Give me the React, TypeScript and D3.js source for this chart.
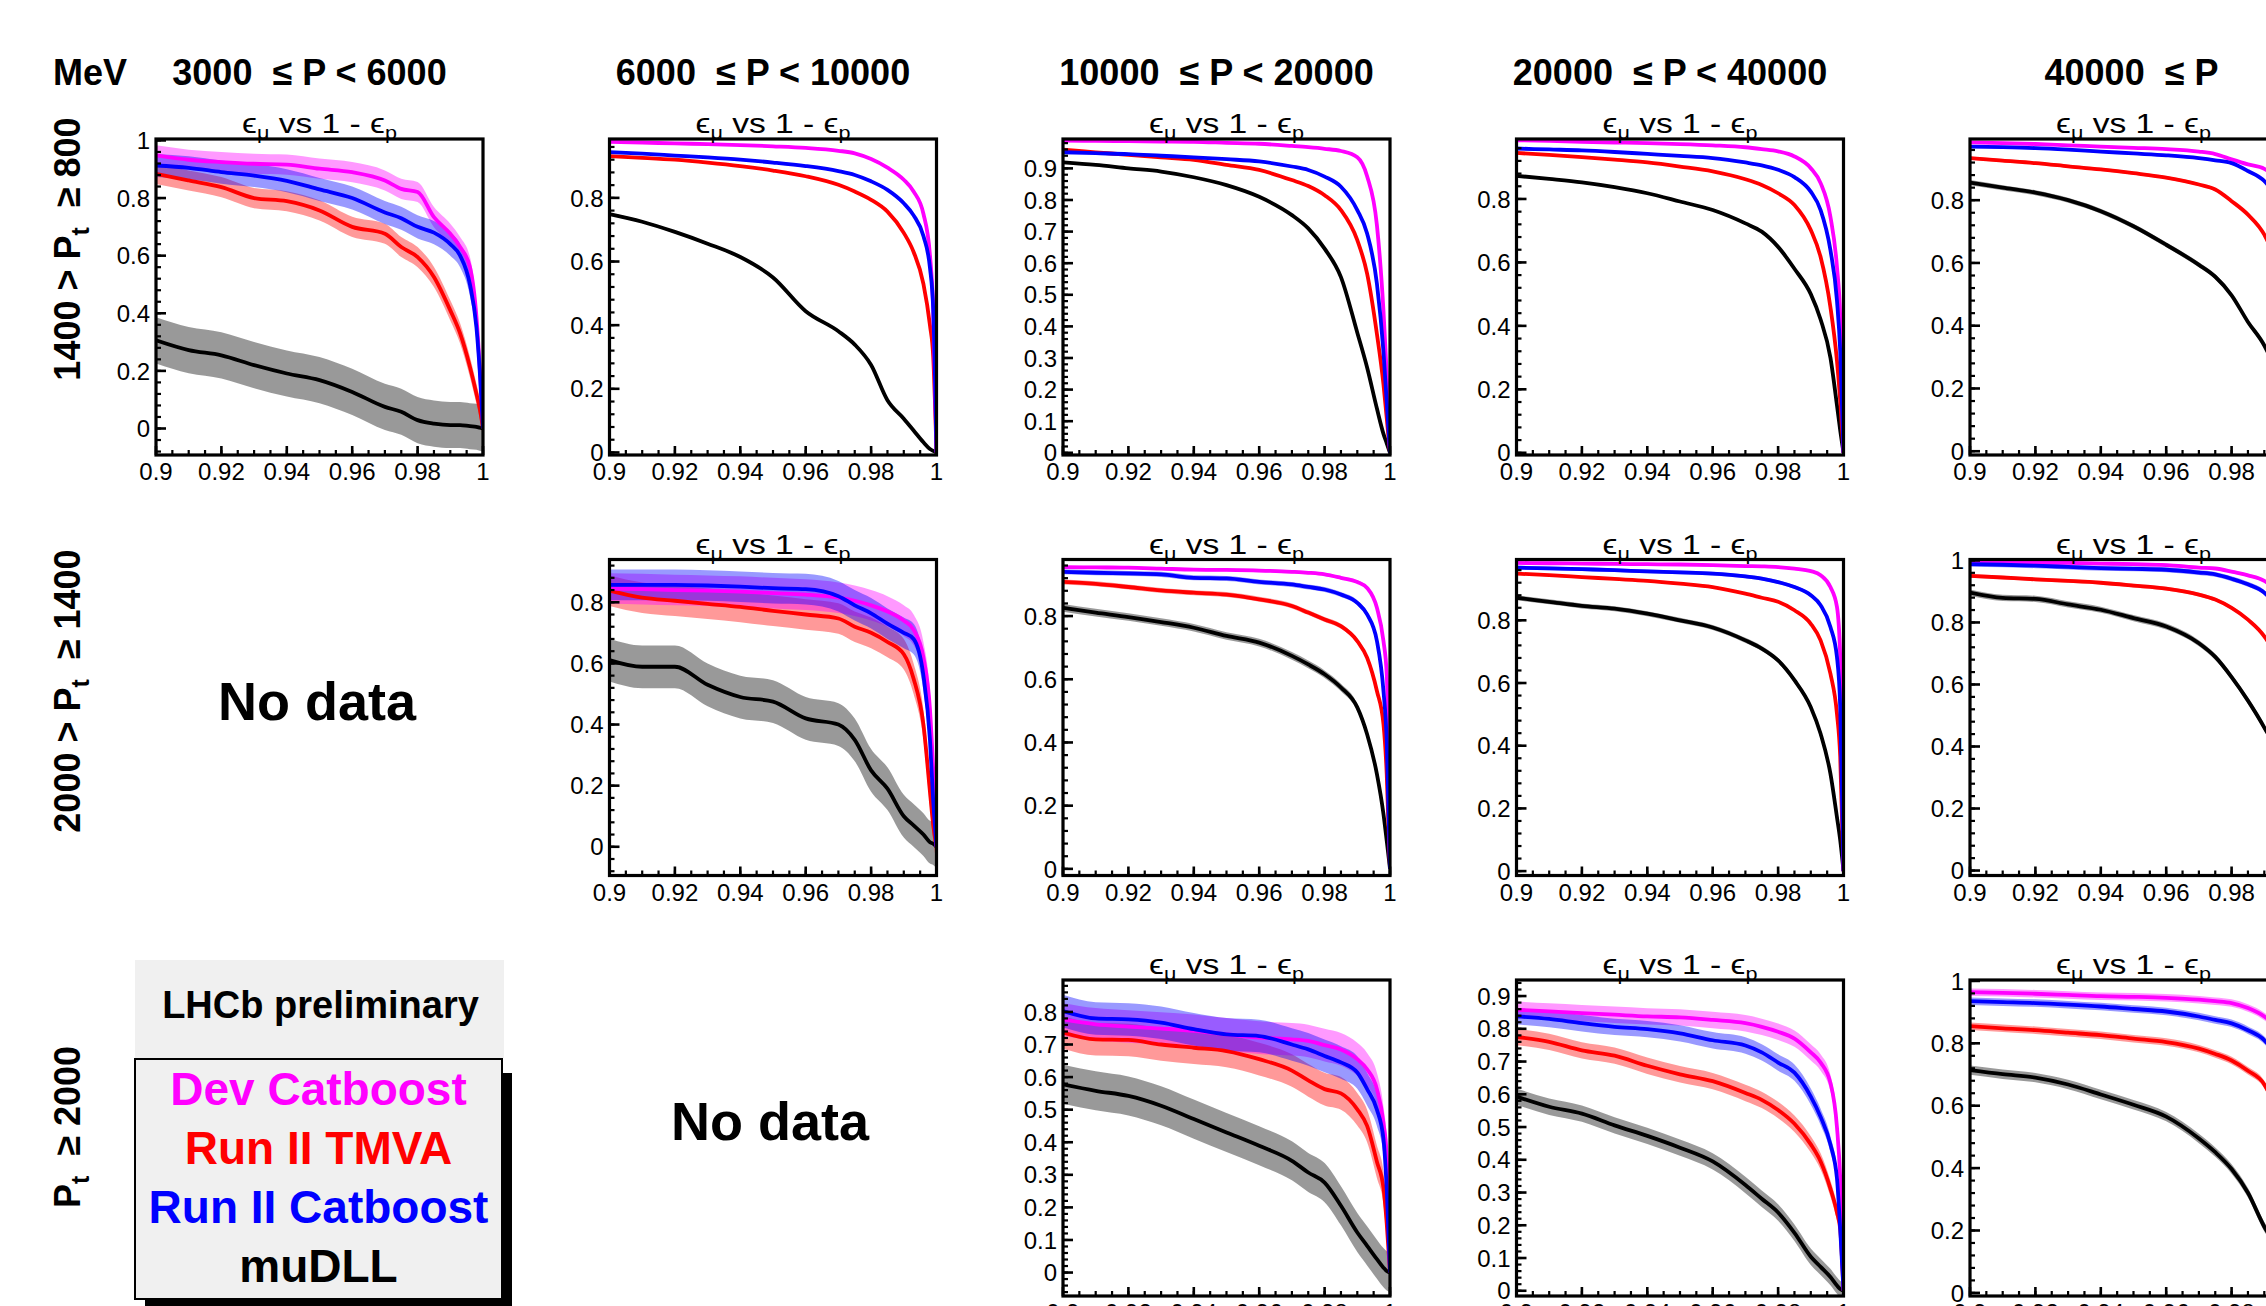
import React from "react";
import * as d3 from "d3";

// 1 - eps_p grid shared by all curves
const EFF_P = [0.9, 0.91, 0.92, 0.93, 0.94, 0.95, 0.96, 0.97, 0.975, 0.98, 0.985, 0.99, 0.993, 0.996, 0.998, 0.999, 1.0];
const X_TICKS = [0.9, 0.92, 0.94, 0.96, 0.98, 1.0];

const P_BINS = ["3000  ≤ P < 6000", "6000  ≤ P < 10000", "10000  ≤ P < 20000", "20000  ≤ P < 40000", "40000  ≤ P"];
const PT_BINS = [
    ["1400 > P", "t", "  ≥ 800"],
    ["2000 > P", "t", "  ≥ 1400"],
    ["P", "t", "  ≥ 2000"],
];
const SERIES_NAMES = ["Dev Catboost", "Run II TMVA", "Run II Catboost", "muDLL"];
const SERIES_COLORS = ["#ff00ff", "#ff0000", "#0000ff", "#000000"];

// eps_mu values, order: Dev Catboost, Run II TMVA, Run II Catboost, muDLL
const DEV_R1C1 = [0.948, 0.933, 0.925, 0.919, 0.916, 0.902, 0.89, 0.861, 0.832, 0.821, 0.734, 0.676, 0.63, 0.561, 0.387, 0.214, 0.02];
const TMVA_R1C1 = [0.884, 0.861, 0.838, 0.8, 0.789, 0.757, 0.7, 0.676, 0.63, 0.595, 0.526, 0.41, 0.33, 0.214, 0.12, 0.07, 0];
const CAT_R1C1 = [0.913, 0.905, 0.89, 0.878, 0.86, 0.83, 0.8, 0.75, 0.73, 0.7, 0.68, 0.64, 0.6, 0.5, 0.35, 0.2, 0];
const DLL_R1C1 = [0.306, 0.272, 0.254, 0.22, 0.191, 0.168, 0.127, 0.075, 0.058, 0.029, 0.017, 0.012, 0.012, 0.008, 0.006, 0.003, 0];
const BAND_R1C1 = [0.035, 0.035, 0.04, 0.08];

const DEV_R1C2 = [0.976, 0.974, 0.971, 0.969, 0.966, 0.962, 0.957, 0.948, 0.94, 0.922, 0.895, 0.857, 0.82, 0.75, 0.62, 0.45, 0];
const TMVA_R1C2 = [0.931, 0.926, 0.92, 0.911, 0.9, 0.886, 0.868, 0.841, 0.82, 0.794, 0.757, 0.69, 0.63, 0.53, 0.4, 0.3, 0];
const CAT_R1C2 = [0.944, 0.939, 0.933, 0.927, 0.92, 0.911, 0.9, 0.884, 0.872, 0.852, 0.825, 0.783, 0.745, 0.68, 0.58, 0.45, 0];
const DLL_R1C2 = [0.749, 0.725, 0.693, 0.656, 0.614, 0.55, 0.444, 0.381, 0.339, 0.275, 0.164, 0.106, 0.069, 0.032, 0.011, 0.005, 0];
const BAND_R1C2 = [0.003, 0.003, 0.003, 0.004];

const DEV_R1C3 = [0.988, 0.987, 0.986, 0.985, 0.984, 0.981, 0.978, 0.971, 0.967, 0.962, 0.955, 0.935, 0.875, 0.72, 0.45, 0.25, 0];
const TMVA_R1C3 = [0.959, 0.951, 0.943, 0.935, 0.927, 0.911, 0.895, 0.863, 0.844, 0.815, 0.768, 0.673, 0.567, 0.376, 0.217, 0.11, 0];
const CAT_R1C3 = [0.951, 0.948, 0.945, 0.94, 0.935, 0.929, 0.922, 0.906, 0.895, 0.874, 0.842, 0.768, 0.694, 0.535, 0.32, 0.16, 0];
const DLL_R1C3 = [0.919, 0.911, 0.9, 0.89, 0.872, 0.847, 0.81, 0.752, 0.71, 0.646, 0.556, 0.38, 0.27, 0.14, 0.06, 0.03, 0];
const BAND_R1C3 = [0.002, 0.002, 0.002, 0.002];

const DEV_R1C4 = [0.985, 0.983, 0.98, 0.978, 0.976, 0.973, 0.969, 0.963, 0.957, 0.95, 0.934, 0.897, 0.85, 0.744, 0.586, 0.43, 0];
const TMVA_R1C4 = [0.945, 0.939, 0.932, 0.924, 0.915, 0.902, 0.887, 0.862, 0.844, 0.818, 0.781, 0.702, 0.617, 0.459, 0.29, 0.164, 0];
const CAT_R1C4 = [0.959, 0.956, 0.953, 0.948, 0.942, 0.936, 0.929, 0.915, 0.906, 0.892, 0.869, 0.823, 0.765, 0.639, 0.48, 0.32, 0];
const DLL_R1C4 = [0.873, 0.863, 0.852, 0.837, 0.818, 0.792, 0.765, 0.723, 0.697, 0.649, 0.58, 0.5, 0.42, 0.3, 0.15, 0.07, 0];
const BAND_R1C4 = [0.002, 0.002, 0.002, 0.003];

const DEV_R1C5 = [0.984, 0.982, 0.979, 0.975, 0.971, 0.967, 0.963, 0.955, 0.947, 0.93, 0.914, 0.9, 0.87, 0.8, 0.65, 0.5, 0];
const TMVA_R1C5 = [0.934, 0.926, 0.918, 0.908, 0.898, 0.886, 0.872, 0.85, 0.834, 0.797, 0.754, 0.69, 0.62, 0.5, 0.35, 0.22, 0];
const CAT_R1C5 = [0.971, 0.969, 0.966, 0.961, 0.955, 0.949, 0.943, 0.934, 0.927, 0.918, 0.893, 0.861, 0.82, 0.74, 0.6, 0.45, 0];
const DLL_R1C5 = [0.856, 0.84, 0.824, 0.8, 0.765, 0.717, 0.658, 0.594, 0.556, 0.497, 0.412, 0.337, 0.27, 0.17, 0.09, 0.045, 0];
const BAND_R1C5 = [0.004, 0.005, 0.004, 0.008];

const DEV_R2C2 = [0.845, 0.843, 0.84, 0.838, 0.835, 0.83, 0.825, 0.815, 0.805, 0.79, 0.77, 0.74, 0.71, 0.62, 0.45, 0.25, 0];
const TMVA_R2C2 = [0.838, 0.815, 0.805, 0.795, 0.785, 0.772, 0.76, 0.747, 0.72, 0.7, 0.67, 0.63, 0.55, 0.4, 0.18, 0.07, 0];
const CAT_R2C2 = [0.857, 0.857, 0.857, 0.855, 0.851, 0.846, 0.843, 0.82, 0.79, 0.764, 0.73, 0.7, 0.68, 0.56, 0.35, 0.15, 0];
const DLL_R2C2 = [0.611, 0.589, 0.589, 0.53, 0.49, 0.475, 0.42, 0.4, 0.35, 0.25, 0.19, 0.1, 0.07, 0.04, 0.015, 0.01, 0];
const BAND_R2C2 = [0.05, 0.05, 0.05, 0.07];

const DEV_R2C3 = [0.955, 0.954, 0.953, 0.95, 0.947, 0.946, 0.944, 0.94, 0.937, 0.932, 0.921, 0.908, 0.889, 0.826, 0.721, 0.616, 0];
const TMVA_R2C3 = [0.908, 0.902, 0.892, 0.881, 0.874, 0.868, 0.853, 0.832, 0.811, 0.789, 0.768, 0.721, 0.668, 0.563, 0.458, 0.3, 0];
const CAT_R2C3 = [0.94, 0.937, 0.935, 0.932, 0.921, 0.919, 0.908, 0.9, 0.892, 0.884, 0.868, 0.842, 0.805, 0.721, 0.563, 0.405, 0];
const DLL_R2C3 = [0.826, 0.811, 0.797, 0.781, 0.763, 0.737, 0.716, 0.674, 0.647, 0.616, 0.574, 0.511, 0.426, 0.3, 0.174, 0.089, 0];
const BAND_R2C3 = [0.005, 0.008, 0.008, 0.012];

const DEV_R2C4 = [0.983, 0.982, 0.981, 0.98, 0.979, 0.978, 0.976, 0.973, 0.972, 0.97, 0.965, 0.957, 0.944, 0.906, 0.843, 0.683, 0];
const TMVA_R2C4 = [0.949, 0.944, 0.938, 0.932, 0.926, 0.917, 0.906, 0.885, 0.872, 0.859, 0.832, 0.789, 0.736, 0.63, 0.502, 0.364, 0];
const CAT_R2C4 = [0.968, 0.966, 0.963, 0.96, 0.956, 0.953, 0.949, 0.94, 0.933, 0.922, 0.906, 0.88, 0.848, 0.779, 0.683, 0.523, 0];
const DLL_R2C4 = [0.872, 0.859, 0.846, 0.837, 0.821, 0.8, 0.777, 0.736, 0.71, 0.672, 0.609, 0.523, 0.438, 0.311, 0.172, 0.098, 0];
const BAND_R2C4 = [0.004, 0.004, 0.006, 0.008];

const DEV_R2C5 = [0.997, 0.995, 0.993, 0.992, 0.99, 0.988, 0.985, 0.977, 0.974, 0.964, 0.952, 0.934, 0.91, 0.86, 0.75, 0.6, 0];
const TMVA_R2C5 = [0.95, 0.945, 0.939, 0.934, 0.928, 0.919, 0.909, 0.89, 0.874, 0.847, 0.809, 0.755, 0.7, 0.6, 0.45, 0.3, 0];
const CAT_R2C5 = [0.988, 0.986, 0.983, 0.979, 0.975, 0.973, 0.97, 0.961, 0.955, 0.941, 0.923, 0.896, 0.86, 0.79, 0.65, 0.5, 0];
const DLL_R2C5 = [0.896, 0.879, 0.876, 0.858, 0.841, 0.814, 0.787, 0.733, 0.689, 0.624, 0.548, 0.461, 0.4, 0.28, 0.15, 0.08, 0];
const BAND_R2C5 = [0.005, 0.006, 0.008, 0.01];

const DEV_R3C3 = [0.777, 0.762, 0.755, 0.749, 0.742, 0.731, 0.721, 0.716, 0.711, 0.698, 0.685, 0.655, 0.624, 0.563, 0.46, 0.358, 0];
const TMVA_R3C3 = [0.737, 0.716, 0.714, 0.7, 0.69, 0.68, 0.655, 0.62, 0.59, 0.563, 0.55, 0.501, 0.45, 0.34, 0.26, 0.15, 0];
const CAT_R3C3 = [0.803, 0.78, 0.777, 0.767, 0.747, 0.731, 0.726, 0.7, 0.685, 0.665, 0.645, 0.614, 0.563, 0.5, 0.41, 0.256, 0];
const DLL_R3C3 = [0.578, 0.558, 0.542, 0.512, 0.471, 0.43, 0.389, 0.343, 0.307, 0.276, 0.205, 0.123, 0.082, 0.041, 0.015, 0.005, 0];
const BAND_R3C3 = [0.05, 0.05, 0.05, 0.06];

const DEV_R3C4 = [0.858, 0.853, 0.848, 0.843, 0.838, 0.835, 0.827, 0.817, 0.806, 0.791, 0.77, 0.728, 0.697, 0.635, 0.5, 0.343, 0];
const TMVA_R3C4 = [0.775, 0.76, 0.734, 0.718, 0.687, 0.661, 0.64, 0.604, 0.583, 0.552, 0.51, 0.447, 0.395, 0.312, 0.239, 0.187, 0];
const CAT_R3C4 = [0.838, 0.83, 0.817, 0.806, 0.799, 0.786, 0.765, 0.749, 0.728, 0.697, 0.666, 0.593, 0.531, 0.447, 0.343, 0.187, 0];
const DLL_R3C4 = [0.593, 0.562, 0.541, 0.505, 0.473, 0.437, 0.395, 0.323, 0.281, 0.239, 0.177, 0.104, 0.073, 0.042, 0.016, 0.005, 0];
const BAND_R3C4 = [0.025, 0.025, 0.025, 0.025];

const DEV_R3C5 = [0.964, 0.962, 0.959, 0.955, 0.951, 0.949, 0.946, 0.94, 0.935, 0.929, 0.913, 0.886, 0.86, 0.8, 0.65, 0.5, 0];
const TMVA_R3C5 = [0.855, 0.848, 0.842, 0.834, 0.826, 0.815, 0.804, 0.783, 0.766, 0.745, 0.712, 0.668, 0.6, 0.5, 0.35, 0.22, 0];
const CAT_R3C5 = [0.935, 0.932, 0.929, 0.924, 0.918, 0.91, 0.902, 0.886, 0.875, 0.864, 0.842, 0.81, 0.77, 0.7, 0.55, 0.4, 0];
const DLL_R3C5 = [0.714, 0.701, 0.69, 0.668, 0.636, 0.603, 0.565, 0.495, 0.451, 0.397, 0.321, 0.212, 0.16, 0.09, 0.045, 0.02, 0];
const BAND_R3C5 = [0.012, 0.012, 0.012, 0.015];

type PanelCfg = {
    row: number;
    col: number;
    yMin: number;
    yMax: number;
    yStep: number;
    curves: number[][];
    bands: number[];
};

const PANELS: PanelCfg[] = [
    { row: 0, col: 0, yMin: -0.092, yMax: 1.005, yStep: 0.2, curves: [DEV_R1C1, TMVA_R1C1, CAT_R1C1, DLL_R1C1], bands: BAND_R1C1 },
    { row: 0, col: 1, yMin: -0.008, yMax: 0.985, yStep: 0.2, curves: [DEV_R1C2, TMVA_R1C2, CAT_R1C2, DLL_R1C2], bands: BAND_R1C2 },
    { row: 0, col: 2, yMin: -0.007, yMax: 0.993, yStep: 0.1, curves: [DEV_R1C3, TMVA_R1C3, CAT_R1C3, DLL_R1C3], bands: BAND_R1C3 },
    { row: 0, col: 3, yMin: -0.007, yMax: 0.989, yStep: 0.2, curves: [DEV_R1C4, TMVA_R1C4, CAT_R1C4, DLL_R1C4], bands: BAND_R1C4 },
    { row: 0, col: 4, yMin: -0.012, yMax: 0.995, yStep: 0.2, curves: [DEV_R1C5, TMVA_R1C5, CAT_R1C5, DLL_R1C5], bands: BAND_R1C5 },
    { row: 1, col: 1, yMin: -0.094, yMax: 0.94, yStep: 0.2, curves: [DEV_R2C2, TMVA_R2C2, CAT_R2C2, DLL_R2C2], bands: BAND_R2C2 },
    { row: 1, col: 2, yMin: -0.021, yMax: 0.979, yStep: 0.2, curves: [DEV_R2C3, TMVA_R2C3, CAT_R2C3, DLL_R2C3], bands: BAND_R2C3 },
    { row: 1, col: 3, yMin: -0.014, yMax: 0.994, yStep: 0.2, curves: [DEV_R2C4, TMVA_R2C4, CAT_R2C4, DLL_R2C4], bands: BAND_R2C4 },
    { row: 1, col: 4, yMin: -0.016, yMax: 1.003, yStep: 0.2, curves: [DEV_R2C5, TMVA_R2C5, CAT_R2C5, DLL_R2C5], bands: BAND_R2C5 },
    { row: 2, col: 2, yMin: -0.072, yMax: 0.898, yStep: 0.1, curves: [DEV_R3C3, TMVA_R3C3, CAT_R3C3, DLL_R3C3], bands: BAND_R3C3 },
    { row: 2, col: 3, yMin: -0.016, yMax: 0.949, yStep: 0.1, curves: [DEV_R3C4, TMVA_R3C4, CAT_R3C4, DLL_R3C4], bands: BAND_R3C4 },
    { row: 2, col: 4, yMin: -0.01, yMax: 1.003, yStep: 0.2, curves: [DEV_R3C5, TMVA_R3C5, CAT_R3C5, DLL_R3C5], bands: BAND_R3C5 },
];

// layout
const W = 327;
const H = 316;
const COL_X0 = 156;
const COL_DX = 453.5;
const ROW_Y0 = 139;
const ROW_DY = 420.5;
const HEADER_DX = [-10, -10, -10, -10, -2];
const ROW_LABEL_Y = [249, 691, 1127];
const FONT = "'Liberation Sans', Arial, Helvetica, sans-serif";

// bands first, then lines (blue ends up on top)
const BAND_ORDER = [3, 1, 0, 2];
const LINE_ORDER = [3, 1, 0, 2];

const fmt = d3.format("~g");

const Panel = ({ cfg }: { cfg: PanelCfg }) => {
    const x = d3.scaleLinear().domain([0.9, 1.0]).range([0, W]);
    const y = d3.scaleLinear().domain([cfg.yMin, cfg.yMax]).range([H, 0]);
    const px = (i: number) => x(EFF_P[i]);

    const line = d3.line<number>()
        .x((_, i) => px(i))
        .y(d => y(d))
        .curve(d3.curveMonotoneX);

    const band = (hw: number) => d3.area<number>()
        .x((_, i) => px(i))
        .y0(d => y(d - hw))
        .y1(d => y(d + hw))
        .curve(d3.curveMonotoneX);

    const majorY = d3.range(0, cfg.yMax + 0.001, cfg.yStep);
    const minorStep = cfg.yStep / 5;
    const minorY = d3.range(Math.ceil(cfg.yMin / minorStep - 1e-6), Math.floor(cfg.yMax / minorStep + 1e-6) + 1)
        .map(k => k * minorStep);
    const minorX = d3.range(0, 21).map(k => 0.9 + k * 0.005);

    const tx = COL_X0 + cfg.col * COL_DX;
    const ty = ROW_Y0 + cfg.row * ROW_DY;
    const clipId = `clip-${cfg.row}-${cfg.col}`;

    return (
        <g transform={`translate(${tx},${ty})`}>
            <clipPath id={clipId}>
                <rect x={0} y={0} width={W} height={H} />
            </clipPath>
            <g clipPath={`url(#${clipId})`}>
                {BAND_ORDER.map(s => (
                    <path key={"b" + s} d={band(cfg.bands[s])(cfg.curves[s]) || ""}
                        fill={SERIES_COLORS[s]} fillOpacity={0.4} stroke="none" />
                ))}
                {LINE_ORDER.map(s => (
                    <path key={"l" + s} d={line(cfg.curves[s]) || ""}
                        fill="none" stroke={SERIES_COLORS[s]} strokeWidth={3.8} strokeLinejoin="round" />
                ))}
            </g>
            {/* minor ticks */}
            {minorY.map((v, i) => (
                <line key={"my" + i} x1={0} x2={5} y1={y(v)} y2={y(v)} stroke="#000" strokeWidth={2.2} />
            ))}
            {minorX.map((v, i) => (
                <line key={"mx" + i} x1={x(v)} x2={x(v)} y1={H} y2={H - 5} stroke="#000" strokeWidth={2.2} />
            ))}
            {majorY.map((v, i) => (
                <line key={"Y" + i} x1={0} x2={10} y1={y(v)} y2={y(v)} stroke="#000" strokeWidth={2.6} />
            ))}
            {X_TICKS.map((v, i) => (
                <line key={"X" + i} x1={x(v)} x2={x(v)} y1={H} y2={H - 9} stroke="#000" strokeWidth={2.6} />
            ))}
            <rect x={0} y={0} width={W} height={H} fill="none" stroke="#000" strokeWidth={3.2} />
            {majorY.map((v, i) => (
                <text key={"yl" + i} x={-6} y={y(v)} dy="0.36em" textAnchor="end"
                    fontSize={24} fontFamily={FONT}>{fmt(+v.toFixed(3))}</text>
            ))}
            {X_TICKS.map((v, i) => (
                <text key={"xl" + i} x={x(v)} y={H + 25} textAnchor="middle"
                    fontSize={24} fontFamily={FONT}>{fmt(v)}</text>
            ))}
            <text transform={`translate(${W / 2},-6) scale(1.2,1)`} textAnchor="middle" fontSize={28} fontFamily={FONT}>
                ϵ<tspan dy={6} fontSize={18}>μ</tspan>
                <tspan dy={-6}>{" vs 1 - ϵ"}</tspan>
                <tspan dy={6} fontSize={18}>p</tspan>
            </text>
        </g>
    );
};

const App = () => {
    const legX = 135;
    const legW = 367;
    return (
        <svg width={2266} height={1306} viewBox="0 0 2266 1306"
            style={{ position: "absolute", left: 0, top: 0, background: "#fff" }}>
            <rect x={0} y={0} width={2266} height={1306} fill="#fff" />

            {/* column headers */}
            <text x={53} y={85} fontSize={36} fontWeight="bold" fontFamily={FONT}>MeV</text>
            {P_BINS.map((t, c) => (
                <text key={"h" + c} x={COL_X0 + c * COL_DX + W / 2 + HEADER_DX[c]} y={85}
                    textAnchor="middle" fontSize={36} fontWeight="bold" fontFamily={FONT}
                    style={{ whiteSpace: "pre" }}>{t}</text>
            ))}

            {/* row labels */}
            {PT_BINS.map((parts, r) => (
                <text key={"r" + r} transform={`translate(80,${ROW_LABEL_Y[r]}) rotate(-90)`}
                    textAnchor="middle" fontSize={36} fontWeight="bold" fontFamily={FONT}
                    style={{ whiteSpace: "pre" }}>
                    {parts[0]}
                    <tspan dy={9} fontSize={25}>{parts[1]}</tspan>
                    <tspan dy={-9}>{parts[2]}</tspan>
                </text>
            ))}

            {PANELS.map(p => <Panel key={`${p.row}-${p.col}`} cfg={p} />)}

            {/* empty bins */}
            <text x={317} y={720} textAnchor="middle" fontSize={54} fontWeight="bold" fontFamily={FONT}>No data</text>
            <text x={770} y={1140} textAnchor="middle" fontSize={54} fontWeight="bold" fontFamily={FONT}>No data</text>

            {/* legend */}
            <rect x={legX} y={960} width={legW + 2} height={98} fill="#f0f0f0" />
            <text x={legX + legW / 2 + 2} y={1018} textAnchor="middle" fontSize={38} fontWeight="bold"
                fontFamily={FONT}>LHCb preliminary</text>
            <rect x={legX + 10} y={1073} width={legW} height={240} fill="#000" />
            <rect x={legX} y={1059} width={legW} height={240} fill="#f0f0f0" stroke="#000" strokeWidth={2} />
            {SERIES_NAMES.map((n, i) => (
                <text key={n} x={legX + legW / 2} y={1105 + i * 59} textAnchor="middle" fontSize={46}
                    fontWeight="bold" fontFamily={FONT} fill={SERIES_COLORS[i]}>{n}</text>
            ))}
        </svg>
    );
};

export default App;
